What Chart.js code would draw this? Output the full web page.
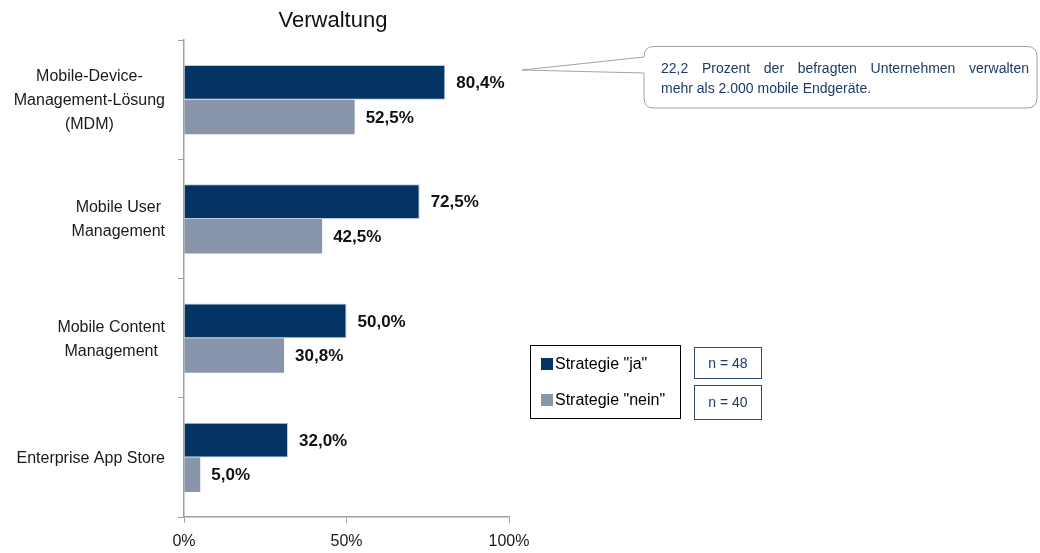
<!DOCTYPE html>
<html>
<head>
<meta charset="utf-8">
<script src="https://cdn.jsdelivr.net/npm/chart.js@4"></script>
<style>
  body { margin: 0; background: #fff; font-family: 'Liberation Sans', Arial, sans-serif; }
  #wrap { position: relative; width: 1040px; height: 553px; }
  #chart { position: absolute; left: 0; top: 0; }
  .legend { position: absolute; left: 530px; top: 345px; width: 149px; height: 72px; border: 1px solid #000; box-sizing: content-box; }
  .legend .item { position: absolute; left: 10px; font-size: 16px; color: #000; white-space: nowrap; }
  .legend .sw { display: inline-block; width: 12px; height: 12px; margin-right: 2px; vertical-align: -1px; }
  .nbox { position: absolute; left: 694px; width: 66px; border: 1px solid #2b4c7a; color: #1f3a66; font-size: 14px; text-align: center; }
  .note { position: absolute; left: 661px; top: 58px; width: 368px; color: #1f3a66; font-size: 14px; line-height: 20px; }
</style>
</head>
<body>
<div id="wrap">
  <canvas id="chart" width="1040" height="553"></canvas>
  <svg width="1040" height="553" style="position:absolute;left:0;top:0;pointer-events:none">
    <path d="M654,46.5 H1027 Q1037,46.5 1037,56.5 V98 Q1037,108 1027,108 H654 Q644,108 644,98 V73 L522,70 L644,57 V56.5 Q644,46.5 654,46.5 Z"
          fill="#fff" stroke="#a3a3a3" stroke-width="1"/>
  </svg>
  <div class="note">
    <div style="text-align:justify;text-align-last:justify">22,2 Prozent der befragten Unternehmen verwalten</div>
    <div>mehr als 2.000 mobile Endgeräte.</div>
  </div>
  <div class="legend" id="legend"></div>
  <div class="nbox" style="top:347px;height:30px;line-height:30px">n = 48</div>
  <div class="nbox" style="top:385px;height:33px;line-height:33px">n = 40</div>
</div>
<script>
// data
const title = "Verwaltung";
const categories = [
  ["Mobile-Device-", "Management-Lösung", "(MDM)"],
  ["Mobile User", "Management"],
  ["Mobile Content", "Management"],
  ["Enterprise App Store"]
];
const seriesLabels = ['Strategie "ja"', 'Strategie "nein"'];
const strategieJa = [80.4, 72.5, 50.0, 32.0];
const strategieNein = [52.5, 42.5, 30.8, 5.0];
const xTicks = [0, 50, 100];

const color = { Dark: "#033463", Light: "#8895ab" };

// title + category labels + value labels
const extras = {
  id: "extras",
  afterDraw(chart) {
    const ctx = chart.ctx;
    ctx.save();
    ctx.fillStyle = "#111";
    ctx.font = "22px 'Liberation Sans', Arial, sans-serif";
    ctx.textAlign = "center";
    ctx.textBaseline = "middle";
    ctx.fillText(title, 333, 21);

    // y labels: block right-aligned, lines centered
    const y = chart.scales.y;
    ctx.font = "16px 'Liberation Sans', Arial, sans-serif";
    ctx.fillStyle = "#1a1a1a";
    categories.forEach((lines, i) => {
      const cy = y.getPixelForValue(i) + 1;
      let w = 0;
      lines.forEach(l => { w = Math.max(w, ctx.measureText(l).width); });
      const cx = 165 - w / 2;
      lines.forEach((l, k) => {
        ctx.fillText(l, cx, cy + (k - (lines.length - 1) / 2) * 24);
      });
    });

    // value labels
    ctx.font = "bold 17px 'Liberation Sans Narrow', 'Arial Narrow', 'Liberation Sans', sans-serif";
    ctx.fillStyle = "#111";
    ctx.textAlign = "left";
    chart.data.datasets.forEach((ds, di) => {
      chart.getDatasetMeta(di).data.forEach((bar, i) => {
        const txt = ds.data[i].toFixed(1).replace(".", ",") + "%";
        ctx.fillText(txt, bar.x + 11, bar.y + 1);
      });
    });
    ctx.restore();
  }
};

const chart = new Chart(document.getElementById("chart"), {
  type: "bar",
  data: {
    labels: categories,
    datasets: [
      { label: seriesLabels[0], data: strategieJa, backgroundColor: color.Dark, borderColor: "#b9c8dc", borderWidth: 1 },
      { label: seriesLabels[1], data: strategieNein, backgroundColor: color.Light, borderColor: "#c9d1de", borderWidth: 0 }
    ]
  },
  options: {
    indexAxis: "y",
    responsive: false,
    animation: false,
    devicePixelRatio: 1,
    categoryPercentage: 0.58,
    barPercentage: 1.0,
    layout: { padding: { top: 40, right: 531, left: 0, bottom: 0 } },
    plugins: { legend: { display: false }, tooltip: { enabled: false } },
    scales: {
      x: {
        min: 0,
        max: 100,
        afterBuildTicks: (s) => { s.ticks = xTicks.map(v => ({ value: v })); },
        afterFit: (s) => { s.height = 36; },
        border: { color: "#a0a0a0", width: 1.5 },
        grid: { drawOnChartArea: false, color: "#a0a0a0", tickLength: 6 },
        ticks: {
          padding: 9,
          color: "#1a1a1a",
          font: { family: "'Liberation Sans', Arial, sans-serif", size: 16 },
          callback: (v) => v + "%"
        }
      },
      y: {
        afterFit: (s) => { s.width = 184; },
        border: { color: "#a0a0a0", width: 1.5 },
        grid: { drawOnChartArea: false, offset: true, color: "#a0a0a0", tickLength: 6 },
        ticks: { display: false }
      }
    }
  },
  plugins: [extras]
});

// html legend from the datasets
const legend = document.getElementById("legend");
chart.data.datasets.forEach((ds, i) => {
  const d = document.createElement("div");
  d.className = "item";
  d.style.top = (i === 0 ? 9 : 45) + "px";
  d.innerHTML = '<span class="sw" style="background:' + ds.backgroundColor + '"></span>';
  d.appendChild(document.createTextNode(ds.label));
  legend.appendChild(d);
});
</script>
</body>
</html>
